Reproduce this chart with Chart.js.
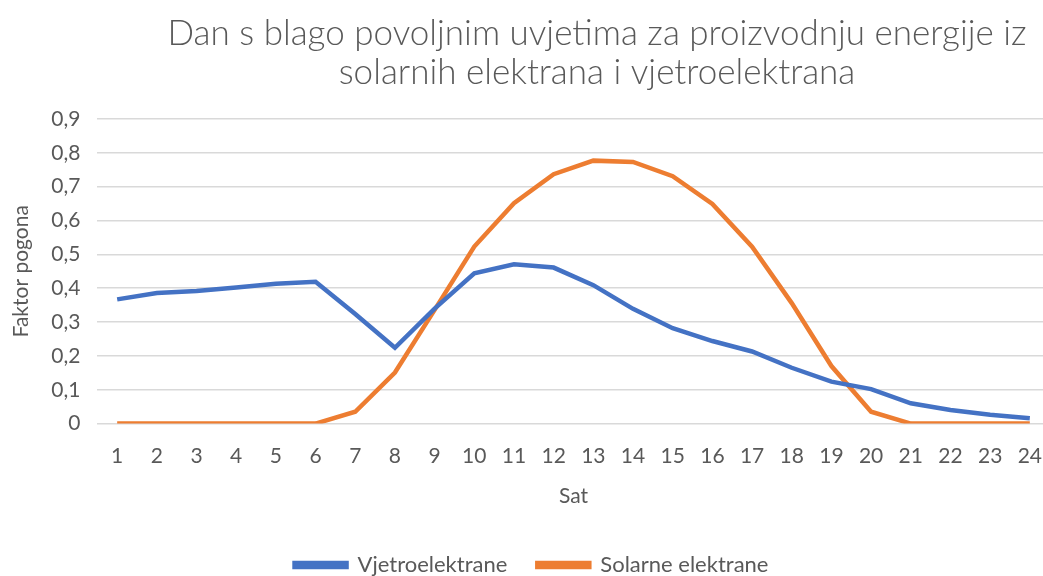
<!DOCTYPE html>
<html>
<head>
<meta charset="utf-8">
<script src="https://cdn.jsdelivr.net/npm/chart.js@4"></script>
<style>
  html, body { margin: 0; padding: 0; background: #fff; overflow: hidden; }
  #wrap { width: 1043px; height: 576px; overflow: hidden; }
</style>
</head>
<body>
<div id="wrap"><canvas id="chart" width="1054" height="576"></canvas></div>
<script>
const hours = ['1','2','3','4','5','6','7','8','9','10','11','12','13','14','15','16','17','18','19','20','21','22','23','24'];
const windValues = [0.367, 0.386, 0.392, 0.402, 0.413, 0.419, 0.324, 0.224, 0.340, 0.444, 0.471, 0.461, 0.409, 0.339, 0.282, 0.244, 0.213, 0.165, 0.124, 0.102, 0.060, 0.040, 0.026, 0.016];
const solarValues = [0, 0, 0, 0, 0, 0, 0.035, 0.151, 0.336, 0.523, 0.651, 0.737, 0.777, 0.773, 0.731, 0.649, 0.523, 0.356, 0.170, 0.035, 0, 0, 0, 0];
const titleLines = ['Dan s blago povoljnim uvjetima za proizvodnju energije iz', 'solarnih elektrana i vjetroelektrana'];

const fontFamily = 'Lato, "Open Sans", sans-serif';
const grey = '#595959';

// naslov se crta sam, jer je u originalu pomaknut udesno
const titlePlugin = {
  id: 'titleText',
  afterDraw(chart) {
    const ctx = chart.ctx;
    ctx.save();
    ctx.fillStyle = grey;
    ctx.font = '300 35px ' + fontFamily;
    ctx.textAlign = 'center';
    ctx.textBaseline = 'middle';
    ctx.fillText(titleLines[0], 597, 34);
    ctx.fillText(titleLines[1], 597, 73);
    ctx.restore();
  }
};

// platno je malo šire od prozora: u originalu crta ide do samog ruba
new Chart(document.getElementById('chart'), {
  type: 'line',
  data: {
    labels: hours,
    datasets: [
      {
        label: 'Vjetroelektrane',
        data: windValues,
        borderColor: '#4472C4',
        backgroundColor: '#4472C4',
        borderWidth: 4.5,
        pointRadius: 0,
        tension: 0
      },
      {
        label: 'Solarne elektrane',
        data: solarValues,
        borderColor: '#ED7D31',
        backgroundColor: '#ED7D31',
        borderWidth: 4.5,
        pointRadius: 0,
        tension: 0
      }
    ]
  },
  options: {
    responsive: false,
    animation: false,
    layout: { padding: { top: 119, right: 0, left: 9, bottom: -10 } },
    plugins: {
      title: { display: false },
      tooltip: { enabled: false },
      legend: {
        position: 'bottom',
        labels: {
          boxWidth: 52,
          boxHeight: 4,
          padding: 30,
          color: grey,
          font: { family: fontFamily, size: 22 }
        }
      }
    },
    scales: {
      x: {
        offset: true,
        grid: { display: false },
        border: { color: '#d9d9d9' },
        ticks: { color: grey, font: { family: fontFamily, size: 21 }, padding: 12, maxRotation: 0 },
        title: { display: true, text: 'Sat', color: grey, font: { family: fontFamily, size: 21 }, padding: { top: 3, bottom: 15 } }
      },
      y: {
        min: 0,
        max: 0.9,
        grid: { color: '#d9d9d9', lineWidth: 1.5, drawTicks: false },
        border: { display: false },
        ticks: {
          stepSize: 0.1,
          color: grey,
          padding: 17,
          font: { family: fontFamily, size: 21 },
          callback: v => v === 0 ? '0' : v.toFixed(1).replace('.', ',')
        },
        title: { display: true, text: 'Faktor pogona', color: grey, padding: 0, font: { family: fontFamily, size: 21 } }
      }
    }
  },
  plugins: [titlePlugin]
});
</script>
</body>
</html>
